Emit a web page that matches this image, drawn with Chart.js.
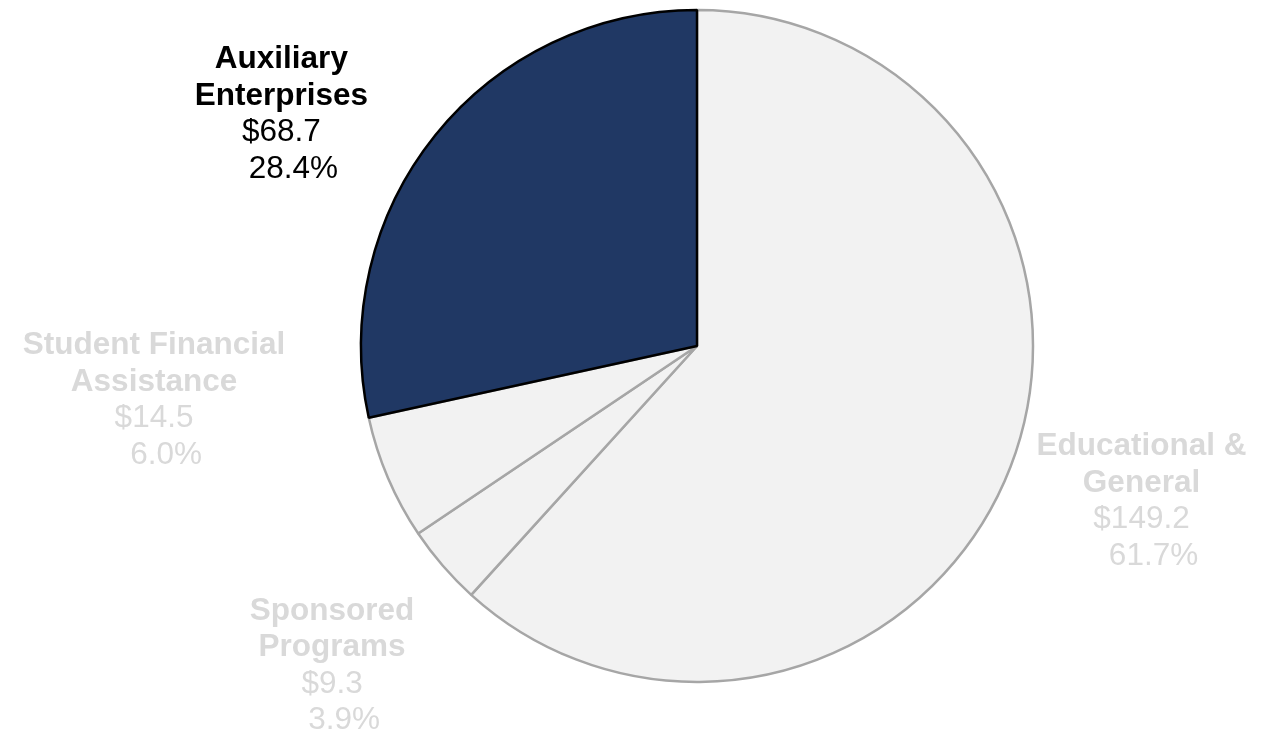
<!DOCTYPE html>
<html>
<head>
<meta charset="utf-8">
<script src="https://cdn.jsdelivr.net/npm/chart.js@4/dist/chart.umd.min.js"></script>
<style>
  html, body { margin: 0; padding: 0; background: #ffffff; }
  #wrap { width: 1275px; height: 733px; }
</style>
</head>
<body>
<div id="wrap"><canvas id="c" width="1275" height="733"></canvas></div>
<script>
// ---- data ----
const categories = ["Educational & General", "Sponsored Programs", "Student Financial Assistance", "Auxiliary Enterprises"];
const labelLines = [["Educational &", "General"], ["Sponsored", "Programs"], ["Student Financial", "Assistance"], ["Auxiliary", "Enterprises"]];
const values = [149.2, 9.3, 14.5, 68.7];
const percentLabels = ["61.7%", "3.9%", "6.0%", "28.4%"];

// ---- styles ----
const fillColors = ["#f2f2f2", "#f2f2f2", "#f2f2f2", "#203864"];
const borderColors = ["#a6a6a6", "#a6a6a6", "#a6a6a6", "#000000"];
const textColors = ["#d9d9d9", "#d9d9d9", "#d9d9d9", "#000000"];
// label block centre, relative to the pie centre, in units of the pie radius
const labelAnchors = [[1.323, 0.454], [-1.086, 0.944], [-1.616, 0.154], [-1.237, -0.697]];

const FONT = "Arial, 'Liberation Sans', sans-serif";
const FS = 31.5;
const LH = 36.5;
const PCT_SHIFT = 12;

const labelPlugin = {
  id: 'pieLabels',
  afterDatasetsDraw(chart) {
    const ctx = chart.ctx;
    const meta = chart.getDatasetMeta(0);
    meta.data.forEach((arc, i) => {
      const p = arc.getProps(['x', 'y', 'outerRadius'], true);
      const cx = p.x + labelAnchors[i][0] * p.outerRadius;
      const cy = p.y + labelAnchors[i][1] * p.outerRadius;
      const lines = [
        { t: labelLines[i][0], b: true, dx: 0 },
        { t: labelLines[i][1], b: true, dx: 0 },
        { t: '$' + values[i].toFixed(1), b: false, dx: 0 },
        { t: percentLabels[i], b: false, dx: PCT_SHIFT }
      ];
      const n = lines.length;
      const capH = FS * 0.716;
      const blockH = capH + (n - 1) * LH;
      let base = cy - blockH / 2 + capH;
      ctx.save();
      ctx.fillStyle = textColors[i];
      ctx.textAlign = 'center';
      ctx.textBaseline = 'alphabetic';
      lines.forEach((ln, k) => {
        ctx.font = (ln.b ? 'bold ' : '') + FS + 'px ' + FONT;
        ctx.fillText(ln.t, cx + ln.dx, base + k * LH);
      });
      ctx.restore();
    });
  }
};

new Chart(document.getElementById('c'), {
  type: 'pie',
  data: {
    labels: categories,
    datasets: [{
      data: values,
      backgroundColor: fillColors,
      borderColor: borderColors,
      borderWidth: 2.5,
      hoverOffset: 0
    }]
  },
  options: {
    responsive: false,
    animation: false,
    radius: 336,
    layout: { padding: { left: 119, right: 0, top: 0, bottom: 41 } },
    plugins: {
      legend: { display: false },
      tooltip: { enabled: false }
    }
  },
  plugins: [labelPlugin]
});
</script>
</body>
</html>
